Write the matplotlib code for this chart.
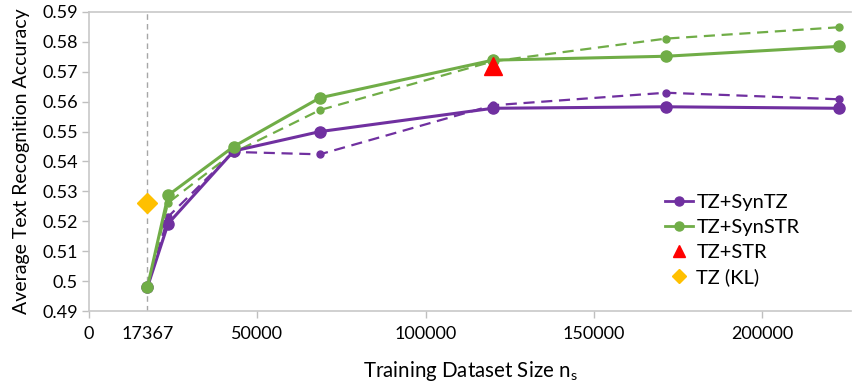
import matplotlib
matplotlib.use("Agg")
import matplotlib.pyplot as plt
from matplotlib.lines import Line2D
from matplotlib.ticker import FuncFormatter

plt.rcParams['font.family'] = ['Lato', 'DejaVu Sans']
plt.rcParams['mathtext.fontset'] = 'custom'
plt.rcParams['mathtext.rm'] = 'Lato'

# data
sizes = [17367, 23500, 43000, 68600, 120000, 171400, 222800]
syntz_solid = [0.498, 0.5192, 0.5435, 0.5500, 0.5578, 0.5583, 0.5578]
syntz_dash = [0.498, 0.5215, 0.5432, 0.5424, 0.5588, 0.5630, 0.5608]
synstr_solid = [0.498, 0.5287, 0.5450, 0.5613, 0.5739, 0.5752, 0.5785]
synstr_dash = [0.498, 0.5262, 0.5430, 0.5572, 0.5735, 0.5811, 0.5849]
str_x, str_y = [120000], [0.5718]
kl_x, kl_y = [17367], [0.526]
x_ticks = [0, 50000, 100000, 150000, 200000]
base_x = 17367

PURPLE = '#7030A0'
GREEN = '#70AD47'
RED = '#FF0000'
YELLOW = '#FFC000'
GRAY = '#BFBFBF'

fig = plt.figure(figsize=(8.54, 3.86), dpi=100)
ax = fig.add_axes([89/854, 1-311/386, (851-89)/854, (311-12)/386])

ax.axvline(base_x, color='#A6A6A6', lw=1.0, ls=(0, (4, 3)), zorder=1)

ax.plot(sizes, syntz_dash, color=PURPLE, lw=1.6, ls=(0, (5, 3)), marker='o', ms=5, zorder=3)
ax.plot(sizes, synstr_dash, color=GREEN, lw=1.6, ls=(0, (5, 3)), marker='o', ms=5, zorder=3)
ax.plot(sizes, syntz_solid, color=PURPLE, lw=2.2, marker='o', ms=8, zorder=4)
ax.plot(sizes, synstr_solid, color=GREEN, lw=2.2, marker='o', ms=8, zorder=4)
ax.plot(str_x, str_y, ls='none', marker='^', ms=13, color=RED, zorder=5)
ax.plot(kl_x, kl_y, ls='none', marker='D', ms=10, color=YELLOW, zorder=5)

ax.set_xlim(0, 226400)
ax.set_ylim(0.49, 0.59)
ax.set_yticks([0.49 + 0.01*i for i in range(11)])
ax.yaxis.set_major_formatter(FuncFormatter(lambda v, p: ('%.2f' % v).rstrip('0')))
ax.set_xticks(x_ticks)
ax.set_xticks([base_x], minor=True)
ax.set_xticklabels(['0', '50000', '100000', '150000', '200000'])
ax.set_xticklabels([str(base_x)], minor=True)
ax.tick_params(axis='x', which='minor', length=0, pad=11, labelsize=13, colors='#000000')
ax.tick_params(axis='x', which='major', length=5, width=1, color=GRAY, pad=6, labelsize=13)
ax.tick_params(axis='y', length=5, width=1, color=GRAY, pad=3, labelsize=13)

for s in ['right']:
    ax.spines[s].set_visible(False)
for s in ['left', 'bottom', 'top']:
    ax.spines[s].set_color('#C8C8C8')
    ax.spines[s].set_linewidth(1.2)

ax.set_xlabel(r'Training Dataset Size n$_\mathregular{s}$', fontsize=14.8, labelpad=12)
ax.set_ylabel('Average Text Recognition Accuracy', fontsize=14, labelpad=9)

handles = [
    Line2D([], [], color=PURPLE, lw=2.0, marker='o', ms=6.5),
    Line2D([], [], color=GREEN, lw=2.0, marker='o', ms=6.5),
    Line2D([], [], color=RED, ls='none', marker='^', ms=9),
    Line2D([], [], color=YELLOW, ls='none', marker='D', ms=7),
]
labels = ['TZ+SynTZ', 'TZ+SynSTR', 'TZ+STR', 'TZ (KL)']
ax.legend(handles, labels, loc='upper left', bbox_to_anchor=(655/854, 1-184/386),
          bbox_transform=fig.transFigure, frameon=False, fontsize=14.5,
          handlelength=1.4, handletextpad=0.15, labelspacing=0.38, borderpad=0)

fig.savefig('out.png', dpi=100)
